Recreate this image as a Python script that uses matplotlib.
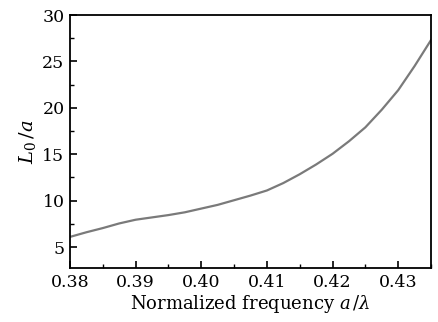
import matplotlib
matplotlib.use("Agg")
import matplotlib.pyplot as plt
from matplotlib.ticker import MultipleLocator

freq = [0.380, 0.3825, 0.385, 0.3875, 0.390, 0.3925, 0.395, 0.3975, 0.400, 0.4025,
        0.405, 0.4075, 0.410, 0.4125, 0.415, 0.4175, 0.420, 0.4225, 0.425, 0.4275,
        0.430, 0.4325, 0.435]
L0 = [6.1, 6.6, 7.05, 7.55, 7.95, 8.2, 8.45, 8.75, 9.15, 9.55,
      10.05, 10.55, 11.1, 11.9, 12.85, 13.9, 15.05, 16.4, 17.9, 19.8,
      21.9, 24.5, 27.3]

xticks = [0.38, 0.39, 0.40, 0.41, 0.42, 0.43]
xticklabels = ["0.38", "0.39", "0.40", "0.41", "0.42", "0.43"]
yticks = [5, 10, 15, 20, 25, 30]

plt.rcParams['font.family'] = ['DejaVu Serif']
plt.rcParams['mathtext.fontset'] = 'dejavuserif'

fig = plt.figure(figsize=(4.39, 3.22), dpi=100)
ax = fig.add_axes([70/439, 1-268/322, 361/439, 253/322])
ax.plot(freq, L0, color='#7a7a7a', lw=1.6)
ax.set_xlim(0.38, 0.435)
ax.set_ylim(2.75, 30)
ax.set_xticks(xticks)
ax.set_xticklabels(xticklabels)
ax.set_yticks(yticks)
ax.xaxis.set_minor_locator(MultipleLocator(0.005))
ax.yaxis.set_minor_locator(MultipleLocator(2.5))
ax.tick_params(which='both', direction='in', labelsize=12.5, top=False, right=False)
ax.tick_params(which='major', length=5, width=1.2, pad=4)
ax.tick_params(which='minor', length=3, width=1.0)
for s in ax.spines.values():
    s.set_linewidth(1.3)
ax.set_xlabel(r"Normalized frequency $a\,/\lambda$", fontsize=13, labelpad=2)
ax.set_ylabel(r"$L_0\,/a$", fontsize=14, labelpad=3)
fig.savefig("out.png", dpi=100)
